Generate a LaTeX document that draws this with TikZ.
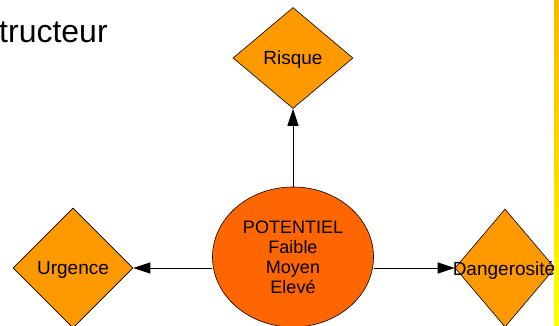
\documentclass[tikz,border=0pt]{standalone}
\usepackage{fontspec}
\setmainfont{Liberation Sans}
\usetikzlibrary{shapes.geometric,arrows.meta}

\definecolor{losangeorange}{HTML}{FF9900}
\definecolor{potorange}{HTML}{FF6600}

\begin{document}
\begin{tikzpicture}[x=1pt, y=1pt,
    losange/.style={diamond, draw, line width=0.6pt, fill=losangeorange, inner sep=0pt},
    etiquette/.style={font=\fontsize{19}{22}\selectfont, yshift=-2pt},
    fleche/.style={line width=0.8pt, -{Triangle[length=17pt, width=11pt]}}]

    \useasboundingbox (0, 0) rectangle (559, 326);

    \node[anchor=base west, font=\fontsize{32}{36}\selectfont, inner sep=0pt] (titre) at (-1, 283) {tructeur};

    \node[losange, minimum width=120pt, minimum height=101pt] (risque) at (293, 268) {};
    \node[etiquette] (risquetxt) at (risque) {Risque};

    \node[losange, minimum width=120pt, minimum height=120pt] (urgence) at (73, 58) {};
    \node[etiquette] (urgencetxt) at (urgence) {Urgence};

    \node[losange, minimum width=100pt, minimum height=118pt] (danger) at (505, 58) {};
    \node[etiquette, inner sep=0pt] (dangertxt) at (504, 58) {Dangerosité};

    \node[ellipse, draw, line width=0.6pt, fill=potorange, minimum width=161pt, minimum height=140pt,
        align=center, font=\fontsize{18}{20}\selectfont] (pot) at (293, 69)
        {POTENTIEL\\Faible\\Moyen\\Elevé};

    \draw[fleche] (pot.north) -- (risque.south);
    \draw[fleche] (urgence.east -| pot.west) -- (urgence.east);
    \draw[fleche] (danger.west -| pot.east) -- (danger.west);

    \shade[top color={rgb,255:red,255;green,180;blue,0}, bottom color={rgb,255:red,255;green,255;blue,0}]
        (554, 0) rectangle (559, 326);

\end{tikzpicture}
\end{document}
